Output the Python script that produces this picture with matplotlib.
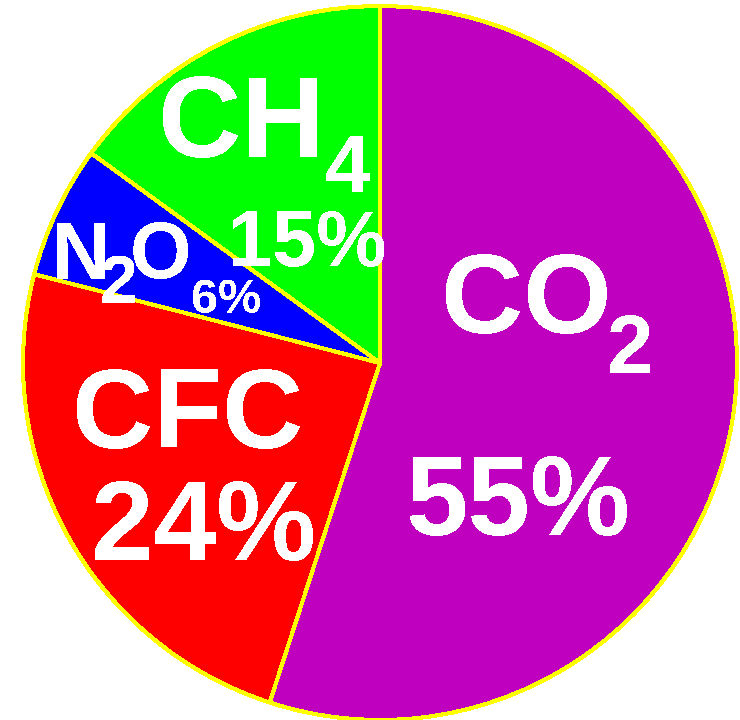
import matplotlib
matplotlib.use("Agg")
from matplotlib import pyplot as plt

# greenhouse gas shares, clockwise from 12 o'clock
gases = ['CO2', 'CFC', 'N2O', 'CH4']
shares = [55, 24, 6, 15]
colors = ['#BF00BF', '#FF0000', '#0000FF', '#00FF00']

W, H = 740, 720


def label(ax, x, y, s, size):
	# x, y are pixel coords from the top-left, y is the text baseline
	ax.text(x, H - y, s, color='white', fontsize=size, fontweight='bold',
		family=['Liberation Sans', 'DejaVu Sans'], ha='left', va='baseline',
		antialiased=False)


def draw_pie():
	fig = plt.figure(figsize=(W / 100, H / 100), dpi=100)
	ax = fig.add_axes([0, 0, 1, 1])
	ax.pie(shares, colors=colors, startangle=90, counterclock=False,
		center=(380, H - 363), radius=357,
		wedgeprops={'edgecolor': '#FFFF00', 'linewidth': 2.2, 'antialiased': False})
	ax.set_xlim(0, W)
	ax.set_ylim(0, H)
	ax.set_aspect('equal')
	ax.axis('off')

	# CO2
	label(ax, 441, 333, 'CO', 82)
	label(ax, 607, 373, '2', 60)
	label(ax, 406, 535, '55%', 81)
	# CFC
	label(ax, 72, 448, 'CFC', 81)
	label(ax, 91, 560, '24%', 81)
	# CH4
	label(ax, 158, 157, 'CH', 83)
	label(ax, 325, 191, '4', 59)
	label(ax, 228, 266, '15%', 57)
	# N2O
	label(ax, 52, 279, 'N', 58)
	label(ax, 100, 303, '2', 49)
	label(ax, 130, 278, 'O', 57)
	label(ax, 191, 313, '6%', 35)

	fig.savefig('out.png', dpi=100, facecolor='white')


if __name__ == '__main__':
	draw_pie()
